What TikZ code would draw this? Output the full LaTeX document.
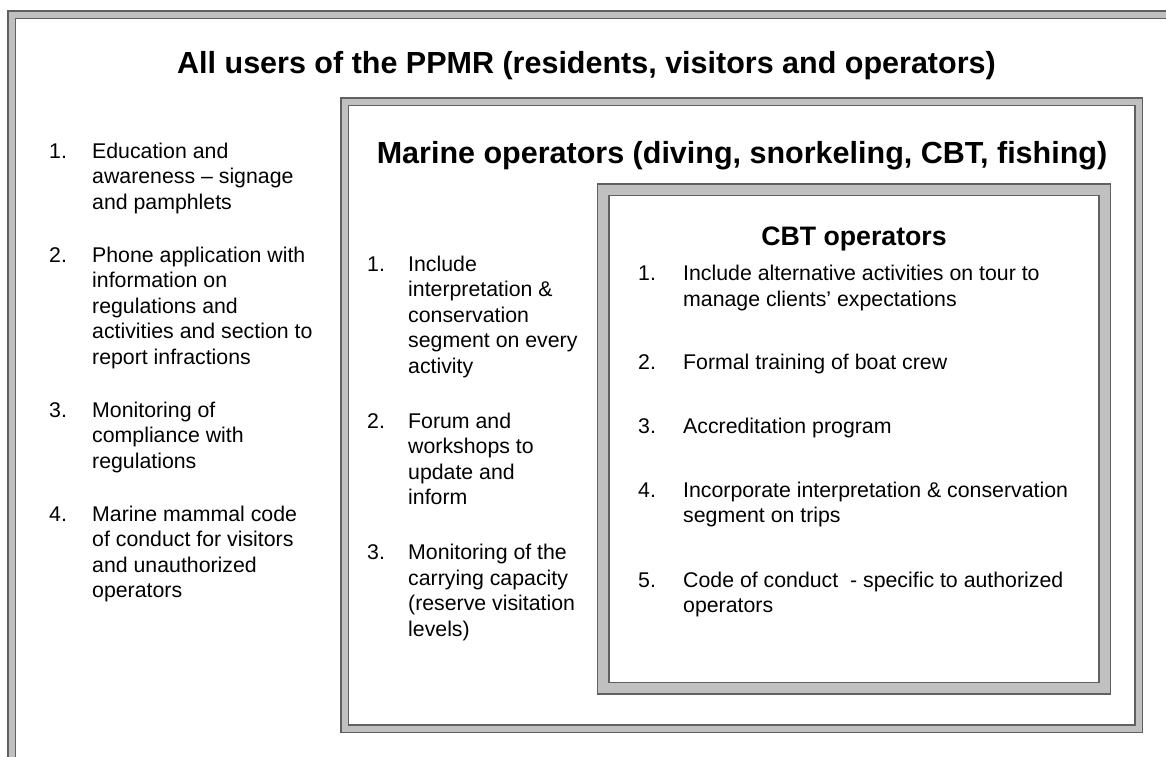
\documentclass[tikz,border=0pt]{standalone}
\usepackage{fontspec}
\setmainfont{Liberation Sans}

\definecolor{bandgray}{HTML}{C0C0C0}
\definecolor{edgegray}{HTML}{606060}

% numbered entry: number column of width #1, then the lines of the entry
\newcommand{\numitem}[3]{\begin{tabular}[t]{@{}p{#1}@{}l@{}}#2&\begin{tabular}[t]{@{}l@{}}#3\end{tabular}\end{tabular}}

\begin{document}
\begin{tikzpicture}[x=1pt, y=-1pt,
    frame/.style={draw=edgegray, line width=1.5pt, double=bandgray, double distance=6pt},
    thickframe/.style={frame, double distance=10pt},
    heading/.style={font=\bfseries\fontsize{30.5}{36}\selectfont, inner sep=0pt, anchor=base},
    entry/.style={font=\fontsize{21.3}{25.5}\selectfont, inner sep=0pt, anchor=base west}]

    \useasboundingbox (0,0) rectangle (1166,756);

    % Draw the three frames
    \draw[frame] (11.5,14.5) rectangle (1170.5,775);
    \draw[frame] (344.5,101.5) rectangle (1138.5,728.5);
    \draw[thickframe] (603,189.5) rectangle (1104.5,688);

    % Headings
    \node[heading, anchor=base west] (allusers) at (177,73) {All users of the PPMR (residents, visitors and operators)};
    \node[heading] (marine) at (742,163) {Marine operators (diving, snorkeling, CBT, fishing)};
    \node[heading, font=\bfseries\fontsize{26.7}{32}\selectfont] (cbt) at (854,245) {CBT operators};

    % All users
    \node[entry] (all1) at (49,158) {\numitem{43pt}{1.}{Education and\\awareness -- signage\\and pamphlets}};
    \node[entry] (all2) at (49,262) {\numitem{43pt}{2.}{Phone application with\\information on\\regulations and\\activities and section to\\report infractions}};
    \node[entry] (all3) at (49,417) {\numitem{43pt}{3.}{Monitoring of\\compliance with\\regulations}};
    \node[entry] (all4) at (49,521) {\numitem{43pt}{4.}{Marine mammal code\\of conduct for visitors\\and unauthorized\\operators}};

    % Marine operators
    \node[entry] (mar1) at (367,271) {\numitem{41pt}{1.}{Include\\interpretation \&\\conservation\\segment on every\\activity}};
    \node[entry] (mar2) at (367,428) {\numitem{41pt}{2.}{Forum and\\workshops to\\update and\\inform}};
    \node[entry] (mar3) at (367,559.5) {\numitem{41pt}{3.}{Monitoring of the\\carrying capacity\\(reserve visitation\\levels)}};

    % CBT operators
    \node[entry] (cbt1) at (638,280.5) {\numitem{45pt}{1.}{Include alternative activities on tour to\\manage clients’ expectations}};
    \node[entry] (cbt2) at (638,369) {\numitem{45pt}{2.}{Formal training of boat crew}};
    \node[entry] (cbt3) at (638,433) {\numitem{45pt}{3.}{Accreditation program}};
    \node[entry] (cbt4) at (638,497) {\numitem{45pt}{4.}{Incorporate interpretation \& conservation\\segment on trips}};
    \node[entry] (cbt5) at (638,587) {\numitem{45pt}{5.}{Code of conduct\ \ - specific to authorized\\operators}};

\end{tikzpicture}
\end{document}
